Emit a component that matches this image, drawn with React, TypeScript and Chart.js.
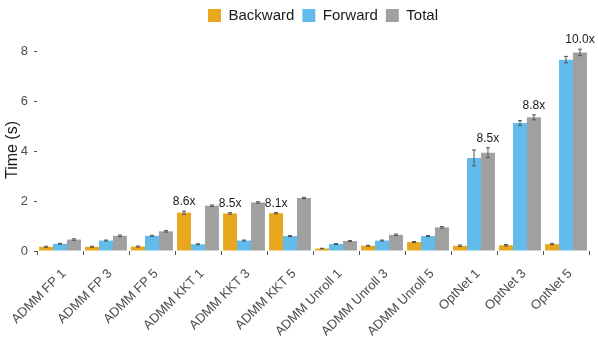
import React, { useEffect, useRef } from "react";
import { Chart, registerables } from "chart.js";

Chart.register(...registerables);

const categories = [
  "ADMM FP 1", "ADMM FP 3", "ADMM FP 5",
  "ADMM KKT 1", "ADMM KKT 3", "ADMM KKT 5",
  "ADMM Unroll 1", "ADMM Unroll 3", "ADMM Unroll 5",
  "OptNet 1", "OptNet 3", "OptNet 5",
];
const seriesNames = ["Backward", "Forward", "Total"];
const backward = [0.17, 0.17, 0.18, 1.54, 1.51, 1.52, 0.1, 0.21, 0.36, 0.21, 0.23, 0.28];
const forward = [0.29, 0.42, 0.61, 0.27, 0.42, 0.6, 0.28, 0.42, 0.6, 3.74, 5.14, 7.69];
const total = [0.46, 0.61, 0.79, 1.82, 1.95, 2.13, 0.4, 0.65, 0.95, 3.95, 5.37, 7.98];
const backwardErr = [0.02, 0.02, 0.02, 0.06, 0.03, 0.03, 0.01, 0.02, 0.02, 0.03, 0.03, 0.03];
const forwardErr = [0.02, 0.02, 0.02, 0.02, 0.02, 0.02, 0.02, 0.02, 0.02, 0.32, 0.1, 0.13];
const totalErr = [0.03, 0.03, 0.03, 0.03, 0.03, 0.03, 0.02, 0.03, 0.03, 0.2, 0.1, 0.13];
const yTicks = [0, 2, 4, 6, 8];
const yTitle = "Time (s)";
const labelCategories = ["ADMM KKT 1", "ADMM KKT 3", "ADMM KKT 5", "OptNet 1", "OptNet 3", "OptNet 5"];
const labelSeries = [0, 0, 0, 2, 2, 2];
const labelTexts = ["8.6x", "8.5x", "8.1x", "8.5x", "8.8x", "10.0x"];

const FONT = "'Liberation Sans', Arial, Helvetica, sans-serif";
const colors = ["#E8A71C", "#62BBEA", "#A0A0A0"];

export default function App() {
  const ref = useRef<HTMLCanvasElement>(null);
  useEffect(() => {
    const errs = [backwardErr, forwardErr, totalErr];
    const vals = [backward, forward, total];
    const errPlugin = {
      id: "errbars",
      afterLayout(chart: any) {
        if (chart.legend) {
          chart.legend.left += 10;
          chart.legend.right += 10;
        }
      },
      afterDatasetsDraw(chart: any) {
        const ctx = chart.ctx;
        const ys = chart.scales.y;
        ctx.save();
        ctx.strokeStyle = "#555555";
        ctx.lineWidth = 1;
        for (let d = 0; d < 3; d++) {
          const meta = chart.getDatasetMeta(d);
          meta.data.forEach((bar: any, j: number) => {
            const v = vals[d][j];
            const e = errs[d][j];
            const y1 = ys.getPixelForValue(v - e);
            const y2 = ys.getPixelForValue(v + e);
            const x = bar.x;
            const c = 2;
            ctx.beginPath();
            ctx.moveTo(x, y1);
            ctx.lineTo(x, y2);
            ctx.moveTo(x - c, y1);
            ctx.lineTo(x + c, y1);
            ctx.moveTo(x - c, y2);
            ctx.lineTo(x + c, y2);
            ctx.stroke();
          });
        }
        ctx.fillStyle = "#1a1a1a";
        ctx.font = `12px ${FONT}`;
        ctx.textAlign = "center";
        ctx.textBaseline = "bottom";
        labelCategories.forEach((cat, i) => {
          const j = categories.indexOf(cat);
          const d = labelSeries[i];
          const bar: any = chart.getDatasetMeta(d).data[j];
          const top = ys.getPixelForValue(vals[d][j] + errs[d][j]);
          ctx.fillText(labelTexts[i], bar.x, top - 3);
        });
        // y-axis title
        ctx.save();
        ctx.translate(13, 150);
        ctx.rotate(-Math.PI / 2);
        ctx.font = `16px ${FONT}`;
        ctx.textAlign = "center";
        ctx.textBaseline = "middle";
        ctx.fillText(yTitle, 0, 0);
        ctx.restore();
        ctx.restore();
      },
    };
    const chart = new Chart(ref.current as HTMLCanvasElement, {
      type: "bar",
      data: {
        labels: categories,
        datasets: vals.map((v, i) => ({
          label: seriesNames[i],
          data: v,
          backgroundColor: colors[i],
          borderWidth: 0,
          categoryPercentage: 0.91,
          barPercentage: 1.0,
        })),
      },
      options: {
        animation: false,
        responsive: true,
        maintainAspectRatio: false,
        layout: { padding: { top: 0, right: 9, left: 0, bottom: 0 } },
        plugins: {
          legend: {
            position: "top",
            fullSize: false,
            labels: {
              boxWidth: 13,
              boxHeight: 13,
              padding: 8,
              color: "#1a1a1a",
              font: { family: FONT, size: 15 },
            },
          },
          tooltip: { enabled: false },
        },
        scales: {
          x: {
            offset: true,
            grid: { display: true, drawOnChartArea: false, drawTicks: true, tickLength: 4, color: "#555" },
            border: { display: false },
            ticks: {
              minRotation: 45,
              maxRotation: 45,
              autoSkip: false,
              padding: 11,
              labelOffset: 4,
              color: "#4D4D4D",
              font: { family: FONT, size: 13 },
            },
            afterFit: (s: any) => {
              s.height = 108;
              s.paddingLeft = 0;
              s.paddingRight = 0;
            },
          },
          y: {
            min: 0,
            max: 8.76,
            grid: { display: true, drawOnChartArea: false, drawTicks: true, tickLength: 3, color: "#555" },
            border: { display: false },
            afterBuildTicks: (s: any) => { s.ticks = yTicks.map((v) => ({ value: v })); },
            ticks: {
              padding: 6,
              color: "#4D4D4D",
              font: { family: FONT, size: 13 },
            },
            afterFit: (s: any) => { s.width = 37; },
          },
        },
      },
      plugins: [errPlugin],
    });
    return () => chart.destroy();
  }, []);
  return (
    <div style={{ position: "fixed", left: 0, top: 0, width: 598, height: 359, background: "#fff" }}>
      <canvas ref={ref} />
    </div>
  );
}
